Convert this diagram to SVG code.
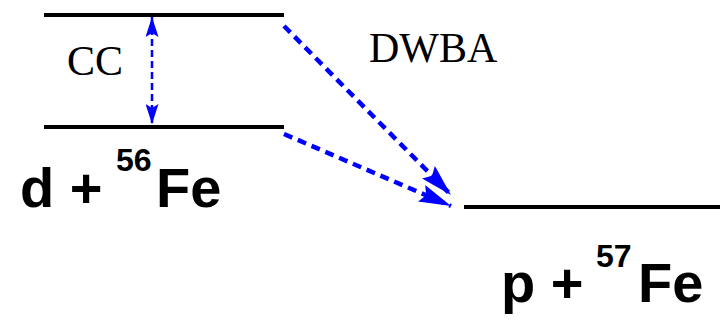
<svg xmlns="http://www.w3.org/2000/svg" width="720" height="321" viewBox="0 0 720 321">
<style>
.lvl{stroke:#000;stroke-width:4;fill:none}
.serif{font-family:"Liberation Serif","Times New Roman",serif;font-size:42px;fill:#000}
.bold{font-family:"Liberation Sans",Arial,sans-serif;font-weight:bold;fill:#000}
.cc{stroke:#0000ff;stroke-width:2.5;stroke-dasharray:7 4;fill:none}
.dw{stroke:#0000ff;stroke-width:4.5;stroke-dasharray:9 6;fill:none}
</style>
<defs>
<marker id="sh" markerUnits="userSpaceOnUse" markerWidth="20" markerHeight="13" refX="20" refY="6.5" orient="auto-start-reverse">
<path d="M0,0 L20,6.5 L0,13 L4,6.5 z" fill="#0000ff"/>
</marker>
<marker id="lh" markerUnits="userSpaceOnUse" markerWidth="32" markerHeight="18" refX="32" refY="9" orient="auto">
<path d="M0,0 L32,9 L0,18 L5,9 z" fill="#0000ff"/>
</marker>
</defs>
<g id="level-d56fe-upper">
<line class="lvl" x1="44" y1="15" x2="284" y2="15"/>
</g>
<g id="level-d56fe-ground">
<line class="lvl" x1="44" y1="127" x2="284" y2="127"/>
<text class="bold" x="20" y="207" font-size="56">d +</text>
<text class="bold" x="116" y="171" font-size="32">56</text>
<text class="bold" x="156" y="207" font-size="56">Fe</text>
</g>
<g id="level-p57fe">
<line class="lvl" x1="464" y1="207" x2="720" y2="207"/>
<text class="bold" x="501" y="302" font-size="56">p +</text>
<text class="bold" x="596" y="267" font-size="32">57</text>
<text class="bold" x="638" y="302" font-size="56">Fe</text>
</g>
<g id="labels">
<text class="serif" x="67" y="75">CC</text>
<text class="serif" x="369" y="62">DWBA</text>
</g>
<g id="connectors">
<line class="cc" x1="152" y1="17" x2="152" y2="124" marker-start="url(#sh)" marker-end="url(#sh)"/>
<line class="dw" x1="284" y1="26" x2="451" y2="195" marker-end="url(#lh)"/>
<line class="dw" x1="284" y1="134" x2="451" y2="206" marker-end="url(#lh)"/>
</g>
</svg>
